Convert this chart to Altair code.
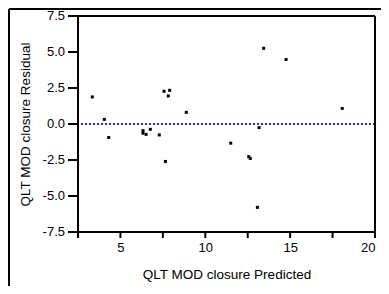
import altair as alt
import pandas as pd

predicted = [3.34, 4.05, 4.31, 6.33, 6.33, 6.51, 6.76, 7.29, 7.57, 7.65, 7.82, 7.90, 8.88,
             11.50, 12.56, 12.65, 13.07, 13.17, 13.44, 14.76, 18.07]
residual = [1.88, 0.32, -0.94, -0.46, -0.64, -0.72, -0.37, -0.76, 2.27, -2.60, 1.95, 2.34, 0.81,
            -1.33, -2.27, -2.39, -5.79, -0.25, 5.26, 4.48, 1.08]

x_ticks = [2.5, 5, 7.5, 10, 12.5, 15, 17.5, 20]
y_ticks = [-7.5, -5, -2.5, 0, 2.5, 5, 7.5]
y_labels = ["-7.5", "-5.0", "-2.5", "0.0", "2.5", "5.0", "7.5"]

df = pd.DataFrame({"pred": predicted, "res": residual})
xt = pd.DataFrame({"v": x_ticks})
yt = pd.DataFrame({"v": y_ticks, "lab": y_labels})
FONT = "Liberation Sans"

W, H = 297, 216

xs = alt.Scale(domain=[2.5, 20], nice=False, zero=False)
ys = alt.Scale(domain=[-7.5, 7.5], nice=False, zero=False)

pts = alt.Chart(df).mark_square(size=9, color="black", opacity=1).encode(
    x=alt.X("pred:Q", scale=xs, title="QLT MOD closure Predicted",
            axis=alt.Axis(values=x_ticks, labelExpr="datum.value % 5 == 0 ? datum.value : ''",
                          tickSize=6, labelPadding=9, titlePadding=13, labelOverlap=False,
                          domain=False, ticks=False)),
    y=alt.Y("res:Q", scale=ys, title="QLT MOD closure Residual",
            axis=alt.Axis(values=y_ticks, labels=False, domain=False, ticks=False,
                          titlePadding=46)),
)

zero = alt.Chart(df).mark_rule(
    color="#2a2aff", strokeDash=[2, 2], strokeWidth=1
).encode(y=alt.YDatum(0))

ytick = alt.Chart(yt).mark_rule(color="black", strokeWidth=2).encode(
    y=alt.Y("v:Q", scale=ys), x=alt.value(-10), x2=alt.value(0))
xtick = alt.Chart(xt).mark_rule(color="black", strokeWidth=2).encode(
    x=alt.X("v:Q", scale=xs), y=alt.value(H), y2=alt.value(H + 6))
ylab = alt.Chart(yt).mark_text(font=FONT, fontSize=13, align="right", baseline="middle",
                               color="black").encode(
    y=alt.Y("v:Q", scale=ys), x=alt.value(-13), text="lab:N")

box_l = alt.Chart(df).mark_rule(color="black", strokeWidth=2).encode(
    x=alt.value(0), y=alt.value(0), y2=alt.value(H))
box_b = alt.Chart(df).mark_rule(color="black", strokeWidth=2).encode(
    x=alt.value(0), x2=alt.value(W), y=alt.value(H))
box_t = alt.Chart(df).mark_rule(color="black", strokeWidth=2).encode(
    x=alt.value(0), x2=alt.value(W), y=alt.value(0))
box_r = alt.Chart(df).mark_rule(color="black", strokeWidth=2).encode(
    x=alt.value(W), y=alt.value(0), y2=alt.value(H))

frame_top = alt.Chart(df).mark_rule(color="black", strokeWidth=2).encode(
    x=alt.value(-69), x2=alt.value(W + 20), y=alt.value(-7))
frame_left = alt.Chart(df).mark_rule(color="black", strokeWidth=2).encode(
    x=alt.value(-69), y=alt.value(-7), y2=alt.value(H + 70))

chart = alt.layer(pts, zero, ytick, xtick, ylab, box_l, box_b, box_t, box_r,
                  frame_top, frame_left).properties(
    width=W, height=H,
    autosize=alt.AutoSizeParams(type="none"),
    padding={"left": 70, "top": 8, "right": 6, "bottom": 54},
).configure_view(
    strokeWidth=0
).configure_axis(
    grid=False,
    labelFont=FONT, titleFont=FONT, labelFontSize=13, titleFontSize=13.5,
    labelColor="black", titleColor="black", titleFontWeight="normal",
)

chart.save("out.html", embed_options={"renderer": "svg", "actions": False})
